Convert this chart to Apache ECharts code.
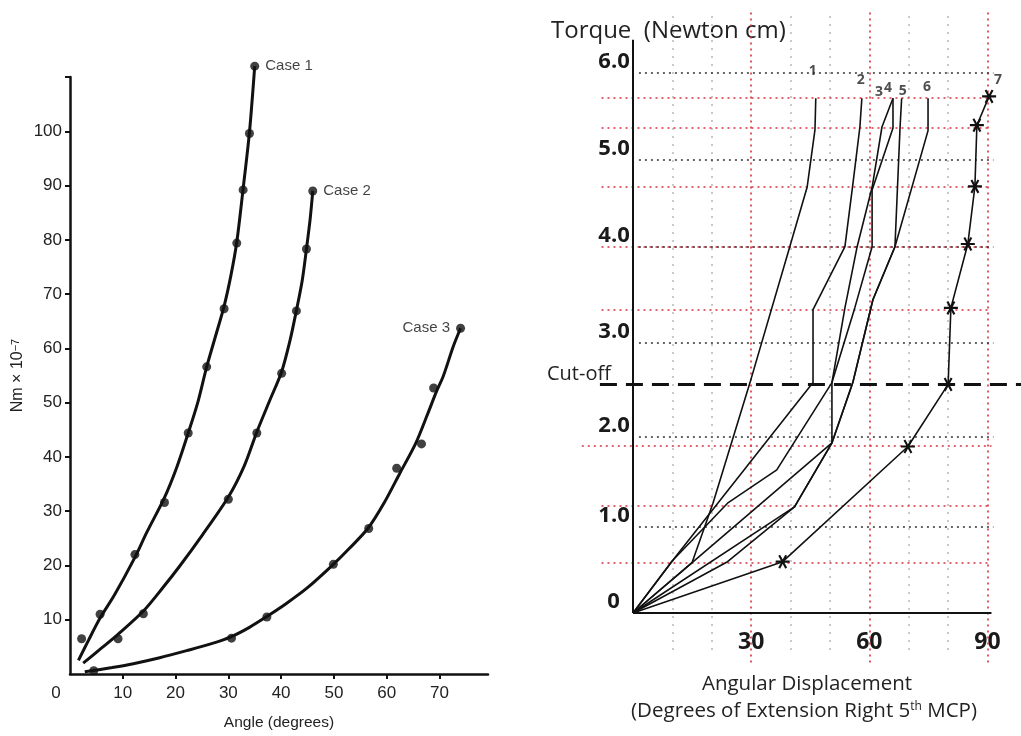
<!DOCTYPE html>
<html>
<head>
<meta charset="utf-8">
<title>Torque / angle curves</title>
<script src="https://cdn.jsdelivr.net/npm/echarts@6/dist/echarts.min.js"></script>
<style>
  html, body { margin: 0; padding: 0; background: #fff; }
  #chart { width: 1021px; height: 736px; }
</style>
</head>
<body>
<div id="chart"></div>
<script>
// ---- left panel: Nm x 10^-7 against angle (degrees), fitted curve + measured dots
const case1Curve = [[1.6,2.5],[3.5,6.2],[5.7,10.3],[8.5,14.7],[12.3,21.5],[14.5,26],[17.9,32.5],[20.2,38],[22.4,44.4],[24.2,50],[25.9,56.6],[27.5,62],[29.2,67.8],[30.5,73.5],[31.6,79.6],[32.8,89.4],[34,99.8],[35,112]];
const case1Dots = [[2.2,6.5],[5.7,11],[12.3,22],[17.9,31.6],[22.4,44.4],[25.9,56.6],[29.2,67.3],[31.6,79.4],[32.8,89.2],[34,99.6],[35,112]];
const case2Curve = [[2.5,2],[6,4.8],[9.1,7.3],[13.9,11.6],[17.5,15.8],[20.8,19.9],[25,25.5],[30,32.6],[33,38.3],[35.4,44.6],[37.8,50.3],[40.1,55.7],[41.7,61.5],[42.9,67],[44,72.5],[44.8,78.3],[45.5,83.8],[46,89]];
const case2Dots = [[9.1,6.5],[13.9,11.1],[30,32.2],[35.4,44.4],[40.1,55.4],[42.9,66.9],[44.8,78.3],[46,89]];
const case3Curve = [[2.8,0.4],[8,1.2],[12,1.9],[17,3],[22.1,4.3],[26.5,5.5],[30.6,6.9],[34,8.6],[37.3,10.6],[41,13],[45,15.9],[49.9,20.2],[53,23.2],[56.5,26.9],[59.5,31.5],[62.5,37],[65.5,42.5],[67.8,48],[69.5,52.2],[70.7,54.8],[72.6,60.3],[74,63.7]];
const case3Dots = [[4.5,0.6],[30.6,6.6],[37.3,10.5],[49.9,20.2],[56.6,26.8],[61.9,37.9],[66.6,42.4],[68.9,52.7],[74,63.7]];
const caseNames = ['Case 1', 'Case 2', 'Case 3'];
const angleTickValues = [10, 20, 30, 40, 50, 60, 70];
const angleLabelValues = [0, 10, 20, 30, 40, 50, 60, 70];
const nmTickValues = [10, 20, 30, 40, 50, 60, 70, 80, 90, 100, 110];
const nmLabelValues = [10, 20, 30, 40, 50, 60, 70, 80, 90, 100];

// ---- right panel: torque (Newton cm) against angular displacement, 7 trials
const line1 = [[0,0],[15,0.56],[20.3,1.22],[29.7,2.56],[39.8,4.07],[44.2,4.73],[46.2,5.37],[46.4,5.72]];
const line2 = [[0,0],[10,0.58],[45.7,2.56],[45.7,3.37],[53.8,4.07],[55.8,4.76],[57.6,5.4],[58.1,5.72]];
const line3 = [[0,0],[24,0.57],[41,1.18],[50.5,1.89],[50.5,2.56],[53.8,3.39],[56.9,4.07],[60.7,4.73],[63.2,5.4],[66,5.72]];
const line4 = [[0,0],[10,0.58],[24,1.22],[36.5,1.59],[50.5,2.56],[56.3,3.39],[60.7,4.07],[60.7,4.7],[66,5.39],[66,5.72]];
const line5 = [[0,0],[15,0.56],[50.5,1.89],[55.8,2.56],[60.9,3.48],[66.5,4.07],[67.8,5.4],[68.2,5.72]];
const line6 = [[0,0],[41,1.18],[50.5,1.89],[55.8,2.56],[60.9,3.48],[66.5,4.07],[74.9,5.36],[74.9,5.72]];
const line7 = [[0,0],[38,0.57],[69.8,1.85],[80,2.54],[80.7,3.39],[85,4.1],[86.8,4.74],[87.3,5.42],[90.4,5.74]];
const lineNames = ['1', '2', '3', '4', '5', '6', '7'];

const torqueTickPos = [0, 0.96, 1.96, 3.0, 4.07, 5.04, 6.0];
const torqueTickLabels = ['0', '1.0', '2.0', '3.0', '4.0', '5.0', '6.0'];
const displacementTicks = [30, 60, 90];
const blackGuides = [6.0, 5.04, 4.07, 3.0, 1.96, 0.96];
const redGuides = [5.72, 5.39, 4.74, 4.07, 3.37, 1.86, 1.19, 0.56];
const redVerticals = [30, 60, 90];
const greyVerticals = [10, 20, 40, 50, 70, 80];
const cutOff = 2.54;

const chart = echarts.init(document.getElementById('chart'));

// asterisk marker made of three bars
const starPath = 'path://M0,11.5 L20,11.5 L20,8.5 L0,8.5 Z M3.7,2.09 L13.7,19.41 L16.3,17.91 L6.3,0.59 Z M6.3,19.41 L16.3,2.09 L13.7,0.59 L3.7,17.91 Z';

function seg(a, b) {
  return [{ coord: a }, { coord: b }];
}

function guide(z, lineStyle, data) {
  return {
    type: 'line', xAxisIndex: 1, yAxisIndex: 1, data: [], z: z,
    markLine: {
      symbol: 'none', silent: true, animation: false, label: { show: false },
      lineStyle: lineStyle, data: data
    }
  };
}

const leftFont = 'Liberation Sans';
const rightFont = 'Open Sans';

const curves = [case1Curve, case2Curve, case3Curve];
const dots = [case1Dots, case2Dots, case3Dots];
const lines = [line1, line2, line3, line4, line5, line6, line7];
const tagOffsets = [[-3, -27], [-1, -18], [-14, -6], [-5, -10], [1, -7], [-1, -11], [9, -16]];

let series = [];

curves.forEach((c) => {
  series.push({
    type: 'line', xAxisIndex: 0, yAxisIndex: 0,
    data: c, smooth: 0.3, showSymbol: false, clip: false,
    lineStyle: { color: '#111', width: 3 }, z: 3
  });
});
dots.forEach((d, i) => {
  series.push({
    type: 'scatter', xAxisIndex: 0, yAxisIndex: 0,
    data: d, symbolSize: 9, clip: false,
    itemStyle: { color: '#111' }, z: 4,
    label: {
      show: true,
      position: i === 2 ? 'left' : 'right',
      distance: 6,
      fontFamily: leftFont, fontSize: 15, color: '#111',
      formatter: p => p.dataIndex === d.length - 1 ? caseNames[i] : ''
    }
  });
});

// guide lines of the right panel
series.push(guide(1, { color: '#c9c9c9', type: [2, 6], width: 2 },
  greyVerticals.map(x => seg([x, -0.41], [x, 6.7]))));
series.push(guide(1, { color: '#d8323c', type: [2, 4], width: 1.6 },
  redVerticals.map(x => seg([x, -0.55], [x, 6.7]))
    .concat(redGuides.map(y => seg([y === 1.86 ? -13 : -8, y], [91, y])))));
series.push(guide(1, { color: '#333', type: [2, 4], width: 1.6 },
  blackGuides.map(y => seg([1.5, y], [91.5, y]))));
series.push(guide(2, { color: '#111', type: [17, 9], width: 3 },
  [seg([-8.4, cutOff], [98.5, cutOff])]));
// axis lines drawn only as far as in the picture
series.push(guide(2, { color: '#111', type: 'solid', width: 2 },
  [seg([0, 0], [91, 0]), seg([0, 0], [0, 6.37])]));

lines.forEach((l, i) => {
  const isStar = i === 6;
  series.push({
    type: 'line', xAxisIndex: 1, yAxisIndex: 1, z: 5,
    data: isStar ? l.map((p, k) => k === 0 ? { value: p, symbol: 'none' } : p) : l,
    showSymbol: isStar,
    symbol: isStar ? starPath : 'none',
    symbolSize: 14,
    itemStyle: { color: '#111' },
    lineStyle: { color: '#111', width: 1.6 }
  });
});
// trial numbers at the end of each line
series.push({
  type: 'scatter', xAxisIndex: 1, yAxisIndex: 1, z: 6,
  symbolSize: 1, itemStyle: { color: 'rgba(0,0,0,0)' },
  data: lines.map((l, i) => ({
    value: l[l.length - 1], name: lineNames[i],
    label: { offset: tagOffsets[i] }
  })),
  label: {
    show: true, position: 'inside', formatter: '{b}',
    fontFamily: rightFont, fontWeight: 'bold', fontSize: 14, color: '#222'
  }
});

chart.setOption({
  animation: false,
  backgroundColor: '#fff',
  grid: [
    { left: 70, top: 77, width: 418, height: 600 },
    { left: 581.8, top: 10, width: 439.3, height: 688.5 }
  ],
  xAxis: [
    {
      type: 'value', gridIndex: 0, min: 0, max: 79.2,
      axisLine: { lineStyle: { color: '#111', width: 2.5 } },
      axisTick: { customValues: angleTickValues, length: 5, lineStyle: { color: '#111', width: 2 } },
      splitLine: { show: false },
      axisLabel: {
        customValues: angleLabelValues,
        margin: 11, fontFamily: leftFont, fontSize: 17, color: '#222',
        formatter: v => v === 0 ? '{z|0}' : String(v),
        rich: { z: { fontFamily: leftFont, fontSize: 17, color: '#222', padding: [0, 28, 0, 0] } }
      },
      name: 'Angle (degrees)', nameLocation: 'middle', nameGap: 41,
      nameTextStyle: { fontFamily: leftFont, fontSize: 15.5, color: '#222' }
    },
    {
      type: 'value', gridIndex: 1, min: -13, max: 98.5,
      axisLine: { show: false },
      axisTick: { show: false },
      splitLine: { show: false },
      axisLabel: {
        customValues: displacementTicks, inside: true, margin: 56, verticalAlign: 'middle',
        fontFamily: rightFont, fontWeight: 'bold', fontSize: 23, color: '#1a1a1a'
      }
    }
  ],
  yAxis: [
    {
      type: 'value', gridIndex: 0, min: 0, max: 110,
      axisLine: { lineStyle: { color: '#111', width: 2.5 } },
      axisTick: { customValues: nmTickValues, length: 5, lineStyle: { color: '#111', width: 2 } },
      splitLine: { show: false },
      axisLabel: {
        customValues: nmLabelValues,
        margin: 8, fontFamily: leftFont, fontSize: 17, color: '#222'
      },
      name: '{a|Nm × 10}{s|−7}', nameLocation: 'middle', nameGap: 44, nameRotate: 90,
      nameTextStyle: {
        fontFamily: leftFont, fontSize: 16, color: '#222',
        rich: {
          a: { fontFamily: leftFont, fontSize: 16, color: '#222' },
          s: { fontFamily: leftFont, fontSize: 11, color: '#222', verticalAlign: 'top' }
        }
      }
    },
    {
      type: 'value', gridIndex: 1, min: -0.95, max: 6.7,
      axisLine: { show: false },
      axisTick: { show: false },
      splitLine: { show: false },
      axisLabel: {
        customValues: torqueTickPos, inside: true, margin: 48, align: 'right', verticalAlign: 'bottom',
        fontFamily: rightFont, fontWeight: 'bold', fontSize: 22, color: '#1a1a1a',
        formatter: v => {
          let k = 0;
          torqueTickPos.forEach((t, i) => { if (Math.abs(t - v) < Math.abs(torqueTickPos[k] - v)) k = i; });
          return k === 0 ? '{z|0}' : torqueTickLabels[k];
        },
        rich: { z: { fontFamily: rightFont, fontWeight: 'bold', fontSize: 22, color: '#1a1a1a', padding: [0, 10, 0, 0] } }
      }
    }
  ],
  graphic: [
    {
      type: 'text', left: 551, top: 19,
      style: { text: 'Torque  (Newton cm)', font: '24px "Open Sans"', fill: '#222' }
    },
    {
      type: 'text', left: 547, top: 364,
      style: { text: 'Cut-off', font: '20px "Open Sans"', fill: '#222' }
    },
    {
      type: 'text', x: 807, y: 684,
      style: { text: 'Angular Displacement', font: '20.5px "Open Sans"', fill: '#222', align: 'center', verticalAlign: 'middle' }
    },
    {
      type: 'text', x: 804, y: 711,
      style: {
        text: '{a|(Degrees of Extension Right 5}{s|th}{a| MCP)}',
        align: 'center', verticalAlign: 'middle',
        rich: {
          a: { fontFamily: rightFont, fontSize: 20.5, fill: '#222', color: '#222' },
          s: { fontFamily: rightFont, fontSize: 12, fill: '#222', color: '#222', verticalAlign: 'top' }
        }
      }
    }
  ],
  series: series
});
</script>
</body>
</html>
